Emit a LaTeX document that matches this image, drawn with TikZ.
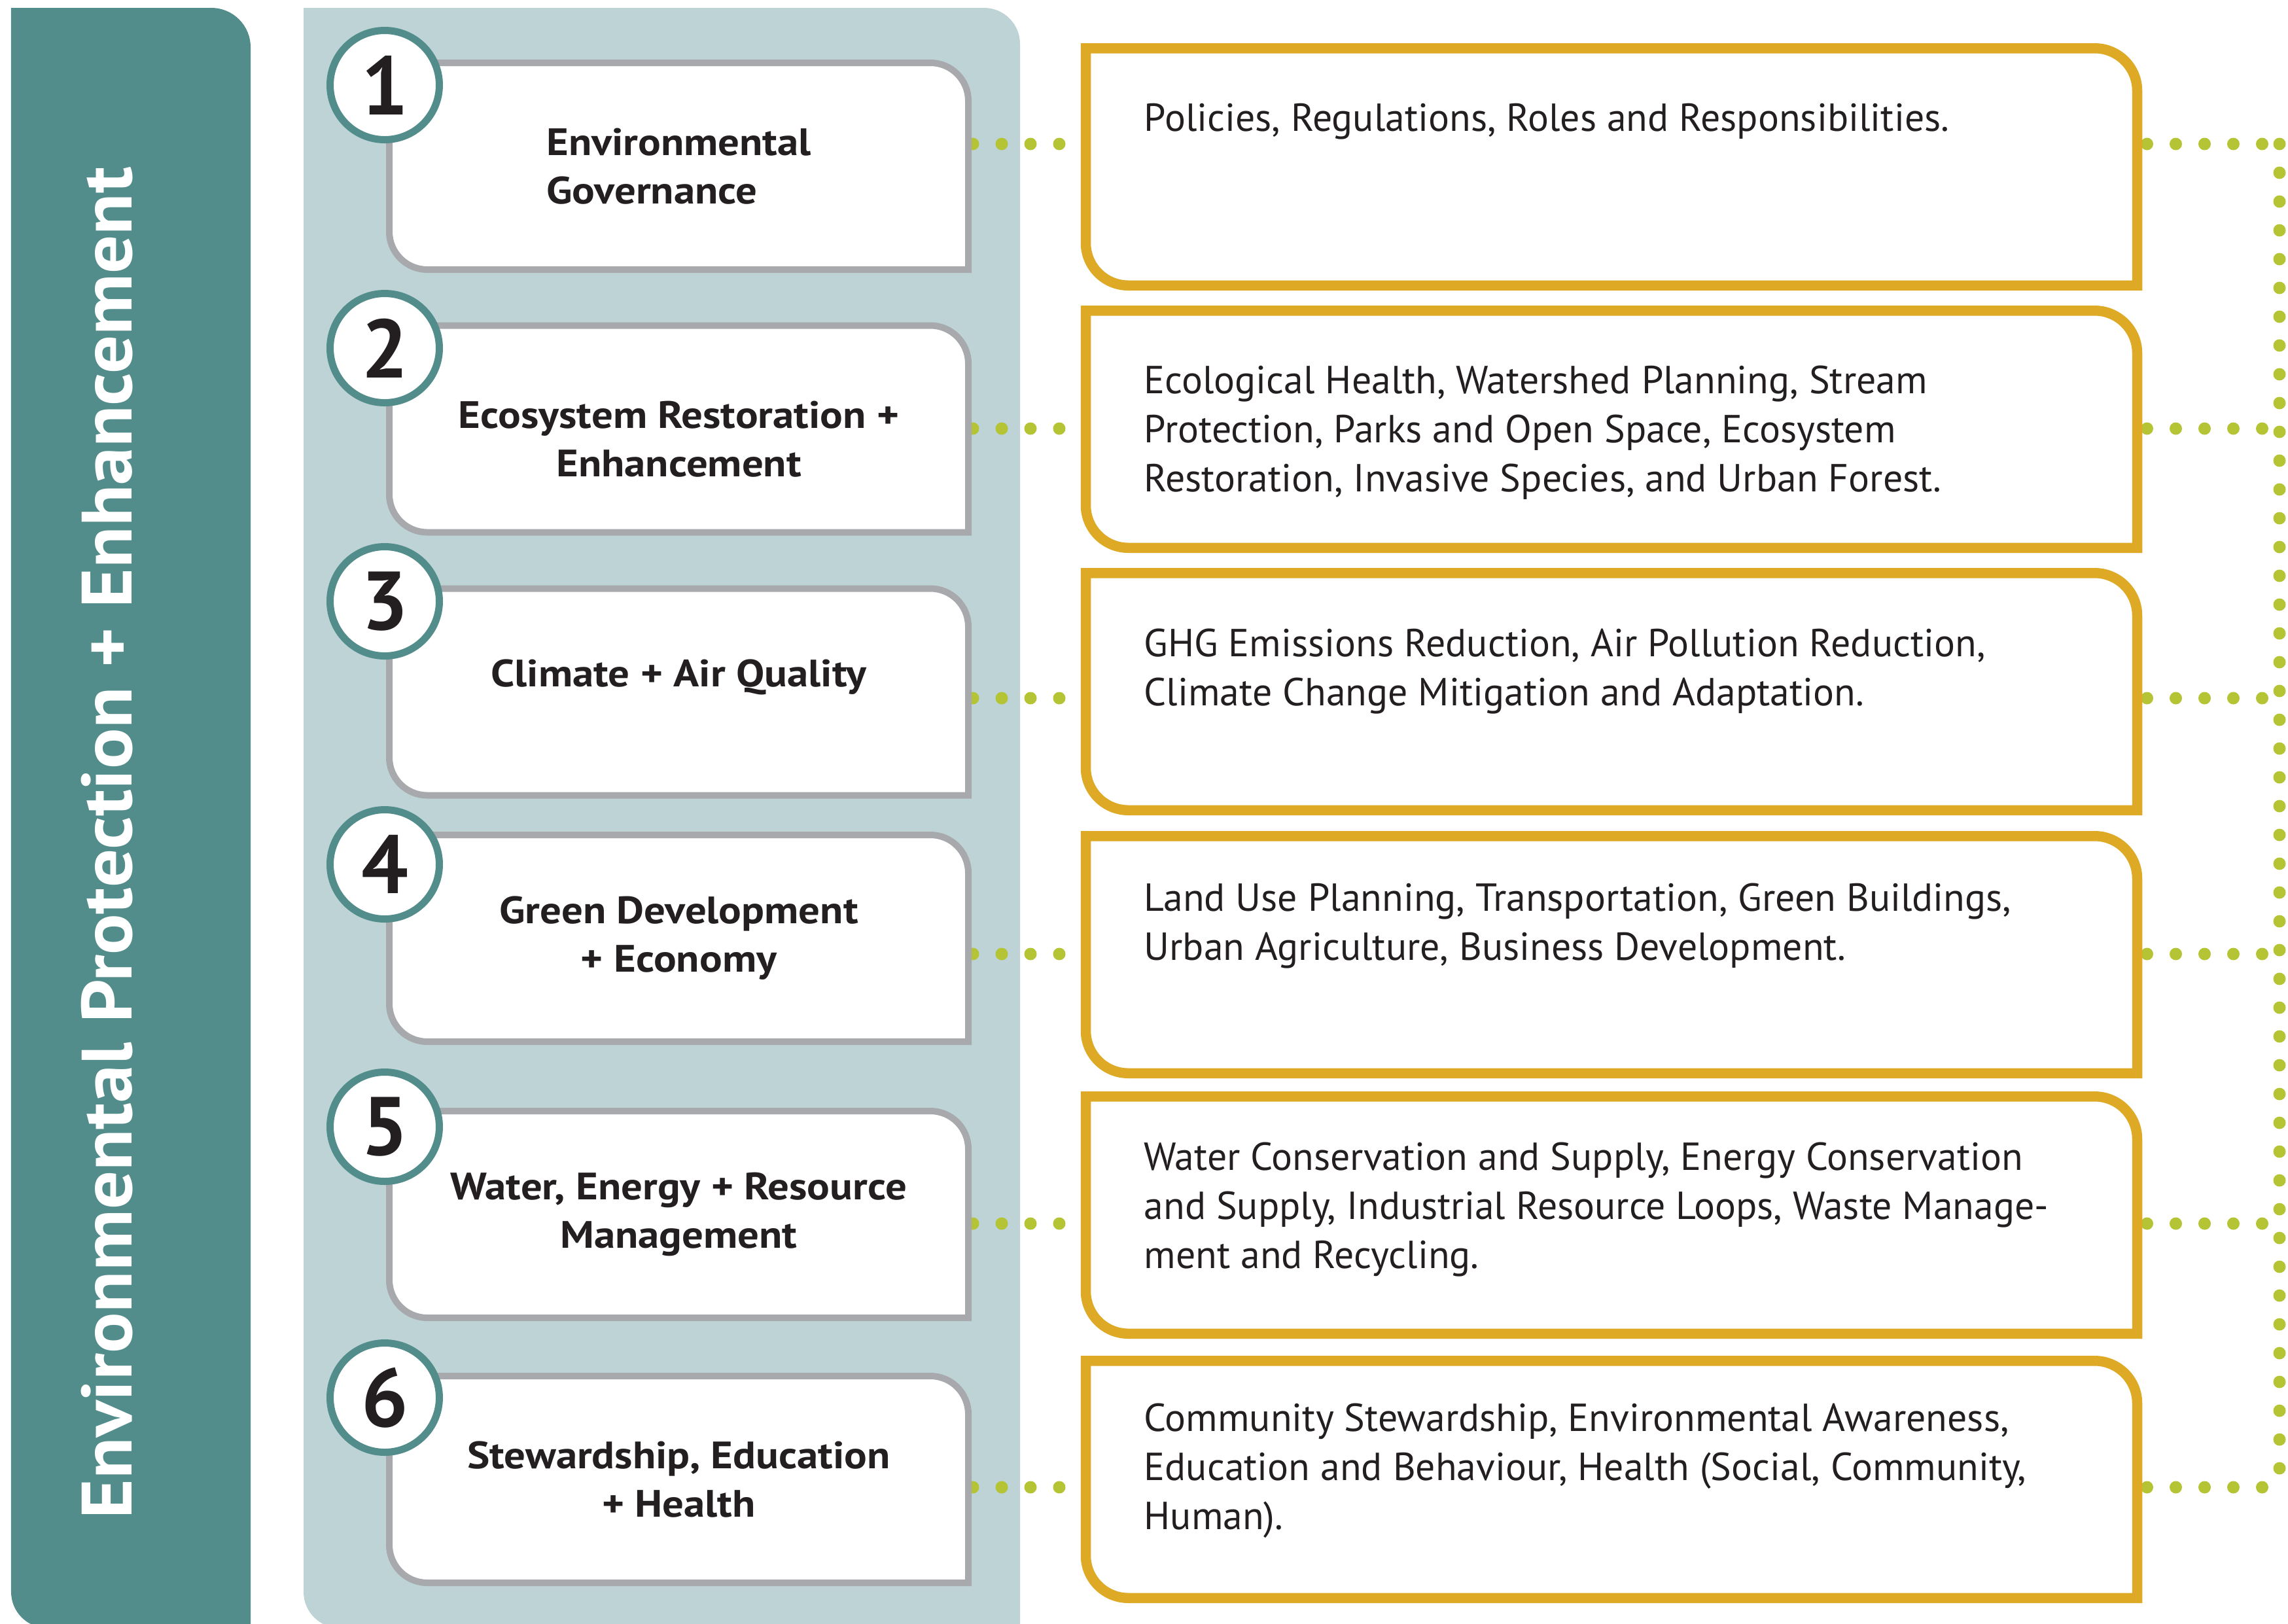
\documentclass[tikz,border=0pt]{standalone}
\usepackage{fontspec}
\setmainfont{PT Sans}
\newfontfamily\widebold[FakeStretch=1.11]{PT Sans}
\newfontfamily\titlefont[FakeStretch=1.07]{PT Sans}
\usetikzlibrary{backgrounds}

\definecolor{barteal}{RGB}{82,141,140}
\definecolor{panelblue}{RGB}{189,211,214}
\definecolor{boxgrey}{RGB}{167,169,172}
\definecolor{topicgold}{RGB}{222,169,37}
\definecolor{dotgreen}{RGB}{181,196,52}
\definecolor{inkblack}{RGB}{35,31,32}

% box with two rounded corners (top right, bottom left)
\newcommand{\tabshape}[3]{%
  \draw[#3] (#1.north west) -- ([xshift=-#2]#1.north east)
    arc[start angle=90,end angle=0,radius=#2] -- (#1.south east)
    -- ([xshift=#2]#1.south west)
    arc[start angle=270,end angle=180,radius=#2] -- cycle;}

\tikzset{
  catbox/.style={minimum width=8.85cm,minimum height=3.16cm,inner sep=0pt,outer sep=0pt,
    align=center,text=inkblack,font=\widebold\bfseries\fontsize{16.6}{21}\selectfont},
  topicbox/.style={minimum width=16.07cm,minimum height=3.625cm,inner sep=0pt,outer sep=0pt},
  topictext/.style={anchor=base west,inner sep=0pt,align=left,text=inkblack,
    font=\fontsize{17}{21.3}\selectfont},
  numring/.style={circle,draw=barteal,line width=0.11cm,fill=white,minimum size=1.67cm,
    inner sep=0pt,text=inkblack,font=\bfseries\fontsize{36}{36}\selectfont},
  dotline/.style={draw=dotgreen,line width=0.19cm,line cap=round,dash pattern=on 0pt off 0.44cm},
}

\begin{document}
\begin{tikzpicture}
  \useasboundingbox (0,0) rectangle (34.97,-24.81);

  % the six themes
  \node[catbox,align=left] (c1) at (10.375,-2.54) {Environmental\\Governance};
  \node[catbox,text height=1.46cm] (c2) at (10.375,-6.555) {Ecosystem Restoration +\\Enhancement};
  \node[catbox,text depth=0.58cm] (c3) at (10.375,-10.575) {Climate + Air Quality};
  \node[catbox] (c4) at (10.375,-14.34) {Green Development\\+ Economy};
  \node[catbox] (c5) at (10.375,-18.56) {Water, Energy + Resource\\Management};
  \node[catbox] (c6) at (10.375,-22.61) {Stewardship, Education\\+ Health};

  \node[numring] (n1) at (5.88,-1.30) {1};
  \node[numring] (n2) at (5.88,-5.32) {2};
  \node[numring] (n3) at (5.88,-9.19) {3};
  \node[numring] (n4) at (5.88,-13.21) {4};
  \node[numring] (n5) at (5.88,-17.22) {5};
  \node[numring] (n6) at (5.88,-21.36) {6};

  % what each theme covers (texts placed by their last baseline)
  \node[topicbox] (t1) at (24.63,-2.55) {};
  \node[topicbox] (t2) at (24.63,-6.56) {};
  \node[topicbox] (t3) at (24.63,-10.57) {};
  \node[topicbox] (t4) at (24.63,-14.59) {};
  \node[topicbox] (t5) at (24.63,-18.57) {};
  \node[topicbox] (t6) at (24.63,-22.61) {};

  \node[topictext] (p1) at (17.48,-2.00) {Policies, Regulations, Roles and Responsibilities.};
  \node[topictext] (p2) at (17.48,-7.51) {Ecological Health, Watershed Planning, Stream\\Protection, Parks and Open Space, Ecosystem\\Restoration, Invasive Species, and Urban Forest.};
  \node[topictext] (p3) at (17.48,-10.78) {GHG Emissions Reduction, Air Pollution Reduction,\\Climate Change Mitigation and Adaptation.};
  \node[topictext] (p4) at (17.48,-14.67) {Land Use Planning, Transportation, Green Buildings,\\Urban Agriculture, Business Development.};
  \node[topictext] (p5) at (17.48,-19.38) {Water Conservation and Supply, Energy Conservation\\and Supply, Industrial Resource Loops, Waste Manage-\\ment and Recycling.};
  \node[topictext] (p6) at (17.48,-23.37) {Community Stewardship, Environmental Awareness,\\Education and Behaviour, Health (Social, Community,\\Human).};

  \coordinate (j1) at (34.84,-2.20);
  \coordinate (j2) at (34.84,-6.55);
  \coordinate (j3) at (34.84,-10.67);
  \coordinate (j4) at (34.84,-14.58);
  \coordinate (j5) at (34.84,-18.70);
  \coordinate (j6) at (34.84,-22.73);

  \node[rotate=90,anchor=base,inner sep=0pt,text=white,font=\titlefont\bfseries\fontsize{31}{31}\selectfont]
    (title) at (2.01,-12.88) {Environmental Protection + Enhancement};

  \begin{scope}[on background layer]
    \fill[barteal] (0.17,-0.12) -- (3.23,-0.12) arc[start angle=90,end angle=0,radius=0.6]
      -- (3.83,-24.88) -- (0.72,-24.88) arc[start angle=270,end angle=180,radius=0.55] -- cycle;
    \fill[panelblue] (4.64,-0.12) -- (15.04,-0.12) arc[start angle=90,end angle=0,radius=0.55]
      -- (15.59,-24.88) -- (5.19,-24.88) arc[start angle=270,end angle=180,radius=0.55] -- cycle;
    \foreach \i in {1,...,6} {
      \draw[dotline,shorten <=0.07cm,shorten >=0.3cm] (c\i.east |- j\i) -- (t\i.west |- j\i);
      \draw[dotline,shorten <=0.15cm] (t\i.east |- j\i) -- (j\i);
    }
    \draw[dotline] (j1) -- (j6);
    \foreach \i in {1,...,6} {
      \tabshape{c\i}{0.58cm}{fill=white,draw=boxgrey,line width=0.1cm}
      \tabshape{t\i}{0.65cm}{fill=white,draw=topicgold,line width=0.155cm}
    }
  \end{scope}
\end{tikzpicture}
\end{document}
